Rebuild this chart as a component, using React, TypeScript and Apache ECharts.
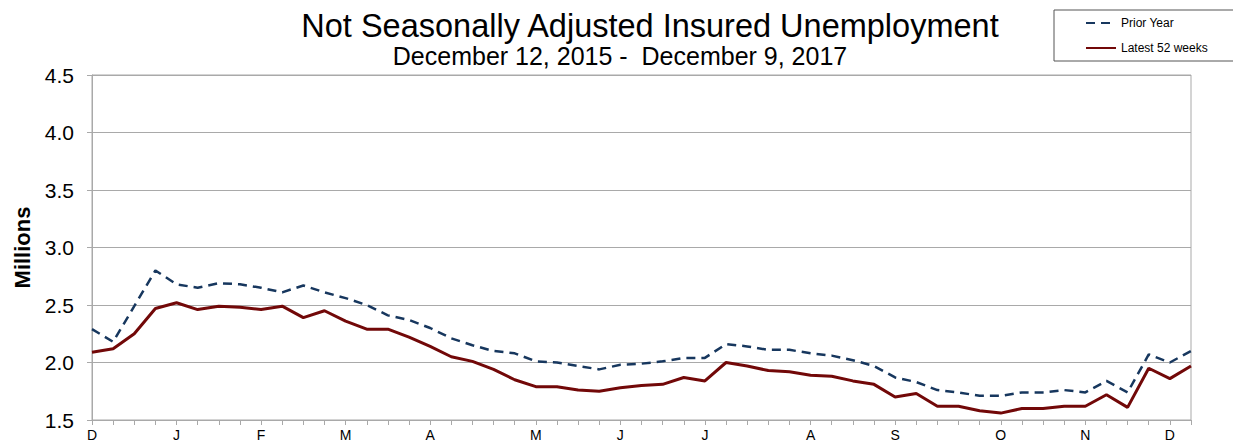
import React, { useEffect, useRef } from "react";
import * as echarts from "echarts";

const weekLabels: string[] = [
  "D", "", "", "", "J", "", "", "", "F", "", "", "", "M", "", "", "", "A", "", "", "", "",
  "M", "", "", "", "J", "", "", "", "J", "", "", "", "", "A", "", "", "", "S", "", "", "", "",
  "O", "", "", "", "N", "", "", "", "D", "",
];

const priorYear: number[] = [
  2.29, 2.18, 2.49, 2.80, 2.68, 2.65, 2.69, 2.68, 2.65, 2.61, 2.67, 2.61, 2.56, 2.50,
  2.41, 2.37, 2.30, 2.21, 2.15, 2.10, 2.08, 2.01, 2.00, 1.97, 1.94, 1.98, 1.99, 2.01,
  2.04, 2.04, 2.16, 2.14, 2.11, 2.11, 2.08, 2.06, 2.02, 1.97, 1.87, 1.83, 1.76, 1.74,
  1.71, 1.71, 1.74, 1.74, 1.76, 1.74, 1.84, 1.74, 2.07, 2.00, 2.10,
];

const latest52Weeks: number[] = [
  2.09, 2.12, 2.25, 2.47, 2.52, 2.46, 2.49, 2.48, 2.46, 2.49, 2.39, 2.45, 2.36, 2.29,
  2.29, 2.22, 2.14, 2.05, 2.01, 1.94, 1.85, 1.79, 1.79, 1.76, 1.75, 1.78, 1.80, 1.81,
  1.87, 1.84, 2.00, 1.97, 1.93, 1.92, 1.89, 1.88, 1.84, 1.81, 1.70, 1.73, 1.62, 1.62,
  1.58, 1.56, 1.60, 1.60, 1.62, 1.62, 1.72, 1.61, 1.95, 1.86, 1.97,
];

const yTicks = { min: 1.5, max: 4.5, interval: 0.5 };

const FONT = "'Liberation Sans', Arial, sans-serif";
const GRID_COLOR = "#a9a9a9";
const BLUE = "#17375e";
const RED = "#720808";

export default function App() {
  const ref = useRef<HTMLDivElement>(null);

  useEffect(() => {
    if (!ref.current) return;
    const chart = echarts.init(ref.current, undefined, { renderer: "svg" });
    chart.setOption({
      animation: false,
      backgroundColor: "#ffffff",
      title: [
        {
          text: "Not Seasonally Adjusted Insured Unemployment",
          left: 645,
          top: 4,
          textAlign: "center",
          textStyle: { fontFamily: FONT, fontSize: 32.5, fontWeight: "normal", color: "#000" },
        },
        {
          text: "December 12, 2015 -  December 9, 2017",
          left: 615,
          top: 38,
          textAlign: "center",
          textStyle: { fontFamily: FONT, fontSize: 25, fontWeight: "normal", color: "#000" },
        },
      ],
      legend: {
        orient: "vertical",
        left: 1054,
        top: 10,
        padding: [7, 27, 7, 31],
        itemGap: 13,
        itemWidth: 30,
        itemHeight: 14,
        borderColor: "#555555",
        borderWidth: 1,
        itemStyle: { opacity: 0 },
        textStyle: { fontFamily: FONT, fontSize: 12, color: "#000" },
        data: ["Prior Year", "Latest 52 weeks"],
      },
      grid: {
        left: 92,
        right: 42,
        top: 75,
        bottom: 25,
        show: true,
        borderColor: GRID_COLOR,
        borderWidth: 1,
      },
      xAxis: {
        type: "category",
        boundaryGap: false,
        data: weekLabels,
        axisLine: { show: true, lineStyle: { color: GRID_COLOR, width: 1 } },
        axisTick: { show: true, interval: 0, length: 5, lineStyle: { color: GRID_COLOR } },
        axisLabel: {
          interval: 0,
          margin: 8,
          fontFamily: FONT,
          fontSize: 14,
          color: "#000",
        },
        splitLine: { show: false },
      },
      yAxis: {
        type: "value",
        min: yTicks.min,
        max: yTicks.max,
        interval: yTicks.interval,
        name: "Millions",
        nameLocation: "middle",
        nameRotate: 90,
        nameGap: 57,
        nameTextStyle: { fontFamily: FONT, fontSize: 22, fontWeight: "bold", color: "#000" },
        axisLine: { show: true, lineStyle: { color: GRID_COLOR, width: 1 } },
        axisTick: { show: true, length: 5, lineStyle: { color: GRID_COLOR } },
        axisLabel: {
          margin: 18,
          fontFamily: FONT,
          fontSize: 21,
          color: "#000",
          formatter: (v: number) => v.toFixed(1),
        },
        splitLine: { show: true, lineStyle: { color: GRID_COLOR, width: 1 } },
      },
      series: [
        {
          name: "Prior Year",
          type: "line",
          data: priorYear,
          symbol: "none",
          lineStyle: { color: BLUE, width: 2.5, type: [9, 6] },
          itemStyle: { color: BLUE },
          z: 2,
        },
        {
          name: "Latest 52 weeks",
          type: "line",
          data: latest52Weeks,
          symbol: "none",
          lineStyle: { color: RED, width: 3 },
          itemStyle: { color: RED },
          z: 3,
        },
      ],
    });
    return () => chart.dispose();
  }, []);

  return (
    <div
      ref={ref}
      style={{ position: "absolute", left: 0, top: 0, width: 1233, height: 445 }}
    />
  );
}
